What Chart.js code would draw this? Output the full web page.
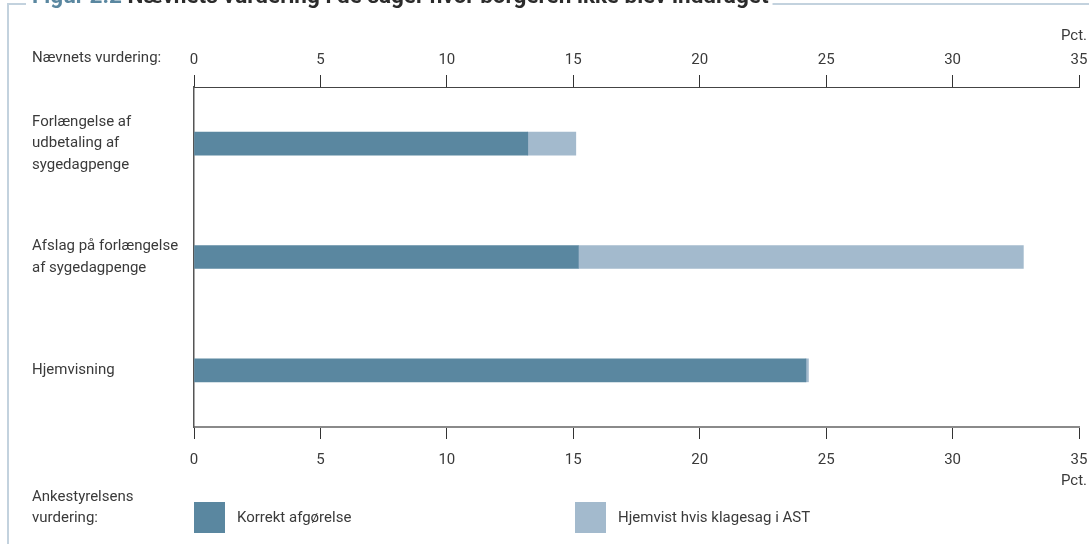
<!DOCTYPE html>
<html>
<head>
<meta charset="utf-8">
<script src="https://cdn.jsdelivr.net/npm/chart.js@4/dist/chart.umd.min.js"></script>
<style>
  html, body { margin: 0; padding: 0; background: #fff; }
  #wrap { position: relative; width: 1089px; height: 544px; overflow: hidden; }
</style>
</head>
<body>
<div id="wrap"><canvas id="mycanvas" width="1089" height="544"></canvas></div>
<script>
var title = "Nævnets vurdering i de sager hvor borgeren ikke blev inddraget";
var figNo = "Figur 2.2";
var categories = [["Forlængelse af", "udbetaling af", "sygedagpenge"], ["Afslag på forlængelse", "af sygedagpenge"], "Hjemvisning"];
var korrekt = [13.2, 15.2, 24.2];
var hjemvist = [1.9, 17.6, 0.1];
var seriesNames = ["Korrekt afgørelse", "Hjemvist hvis klagesag i AST"];
var colors = ["#5a87a0", "#a3bacd"];
var xTicks = [0, 5, 10, 15, 20, 25, 30, 35];

var FONT = "'Liberation Sans Narrow', 'Roboto', sans-serif";
var textColor = "#3a3a3a";

var extras = {
  id: "extras",
  beforeDraw: function(chart) {
    var c = chart.ctx;
    c.save();
    // frame
    c.strokeStyle = "#c3d2de";
    c.lineWidth = 2;
    c.beginPath();
    c.moveTo(8, 544);
    c.lineTo(8, 4);
    c.lineTo(1089, 4);
    c.stroke();
    // cut-off title
    c.fillStyle = "#ffffff";
    c.font = "bold 22.5px Roboto, sans-serif";
    var w1 = c.measureText(figNo + " ").width;
    var w2 = c.measureText(title).width;
    c.fillRect(26, 0, w1 + w2 + 10, 6);
    c.textBaseline = "alphabetic";
    c.fillStyle = "#5a87a0";
    c.fillText(figNo + " ", 32, 3);
    c.fillStyle = "#2b2b2b";
    c.fillText(title, 32 + w1, 3);
    c.restore();
  },
  afterDraw: function(chart) {
    var c = chart.ctx;
    var xs = chart.scales.x;
    c.save();
    c.font = "15px " + FONT;
    c.fillStyle = textColor;
    c.textBaseline = "middle";
    c.textAlign = "left";
    c.fillText("Nævnets vurdering:", 32, 58);
    c.textAlign = "right";
    c.fillText("Pct.", 1087, 36);
    c.fillText("Pct.", 1087, 481);
    c.textAlign = "left";
    c.fillText("Ankestyrelsens", 32, 497);
    c.fillText("vurdering:", 32, 518);
    // legend
    var lx = [xs.getPixelForValue(0), 575];
    for (var i = 0; i < seriesNames.length; i++) {
      c.fillStyle = chart.data.datasets[i].backgroundColor;
      c.fillRect(lx[i], 502, 31, 31);
      c.fillStyle = textColor;
      c.fillText(seriesNames[i], lx[i] + 43, 518);
    }
    c.restore();
  }
};

var tickFont = { family: FONT, size: 15 };

function noSidePad(s) {
  s.paddingLeft = 0;
  s.paddingRight = 0;
}

var ctx = document.getElementById("mycanvas");
var chart = new Chart(ctx, {
  type: "bar",
  data: {
    labels: categories,
    datasets: [
      { label: seriesNames[0], data: korrekt, backgroundColor: colors[0], barThickness: 23 },
      { label: seriesNames[1], data: hjemvist, backgroundColor: colors[1], barThickness: 23 }
    ]
  },
  options: {
    indexAxis: "y",
    responsive: false,
    animation: false,
    devicePixelRatio: 1,
    layout: { padding: { left: 32, right: 10, top: 0, bottom: 0 } },
    plugins: { legend: { display: false }, tooltip: { enabled: false } },
    scales: {
      x: {
        stacked: true,
        position: "bottom",
        min: 0, max: 35,
        afterBuildTicks: function(s) { s.ticks = xTicks.map(function(v) { return { value: v }; }); },
        afterFit: function(s) { s.height = 117; noSidePad(s); },
        ticks: { font: tickFont, color: textColor, padding: 12, maxRotation: 0 },
        grid: { drawOnChartArea: false, tickLength: 12, color: "#333", lineWidth: 1 },
        border: { color: "#8a8a8a", width: 2 }
      },
      x2: {
        position: "top",
        min: 0, max: 35,
        afterBuildTicks: function(s) { s.ticks = xTicks.map(function(v) { return { value: v }; }); },
        afterFit: function(s) { s.height = 87; noSidePad(s); },
        ticks: { font: tickFont, color: textColor, padding: 6, maxRotation: 0 },
        grid: { drawOnChartArea: false, tickLength: 12, color: "#333", lineWidth: 1 },
        border: { color: "#444", width: 1 }
      },
      y: {
        stacked: true,
        afterFit: function(s) { s.width = 162; },
        ticks: { font: { family: FONT, size: 15, lineHeight: 1.45 }, color: textColor, crossAlign: "far", padding: 0 },
        grid: { display: false, drawOnChartArea: false },
        border: { color: "#555", width: 1.5 }
      }
    }
  },
  plugins: [extras]
});
</script>
</body>
</html>
